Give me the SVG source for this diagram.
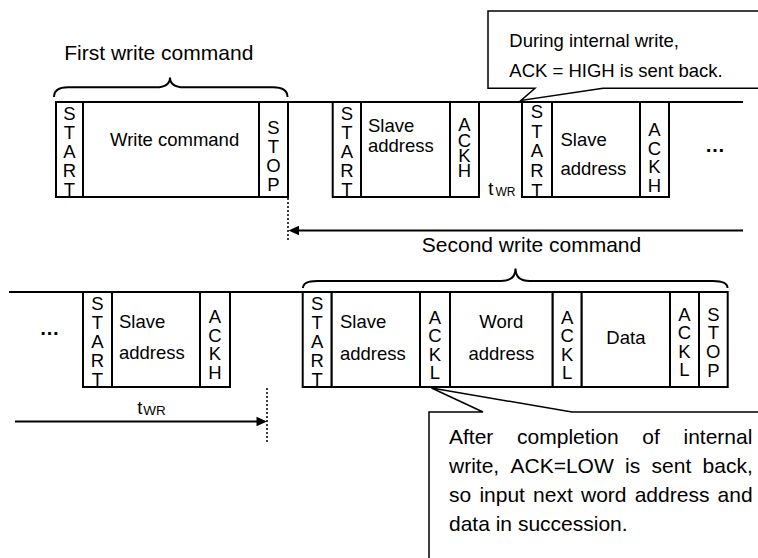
<svg xmlns="http://www.w3.org/2000/svg" width="758" height="558" viewBox="0 0 758 558">
<defs>
<style>
.box{fill:#fff;stroke:#000;stroke-width:2}
.ln{fill:none;stroke:#000;stroke-width:2}
.dot{fill:none;stroke:#000;stroke-width:1.5;stroke-dasharray:2 2}
.call{fill:#fff;stroke:#000;stroke-width:1.5}
text{font-family:"Liberation Sans",Arial,sans-serif;fill:#000}
.t{font-size:18.5px}
.c{text-anchor:middle}
.big{font-size:21px}
.vt{font-size:18.5px;writing-mode:vertical-rl;text-orientation:upright}
.el{font-size:20px;font-weight:bold;text-anchor:middle}
</style>
</defs>
<rect width="758" height="558" fill="#fff"/>

<g id="connectors">
  <line class="ln" x1="288" y1="102" x2="743" y2="102"/>
  <line class="ln" x1="9" y1="292" x2="303" y2="292"/>
  <line class="dot" x1="288" y1="198" x2="288" y2="242"/>
  <line class="dot" x1="267" y1="388" x2="267" y2="442"/>
  <line class="ln" x1="743" y1="230.5" x2="297" y2="230.5"/>
  <polygon points="288.5,230.5 299,225.8 299,235.2" fill="#000"/>
  <line class="ln" x1="15" y1="421.5" x2="258" y2="421.5"/>
  <polygon points="267,421.5 256.5,416.8 256.5,426.2" fill="#000"/>
  <path class="ln" d="M54 97 Q54 87.3 68 87.3 L156 87.3 Q170 87.3 170 77.5 Q170 87.3 184 87.3 L273 87.3 Q287.5 87.3 287.5 97"/>
  <path class="ln" d="M303 288 Q303 281 317 281 L501 281 Q515.5 281 515.5 268.5 Q515.5 281 530 281 L713 281 Q727.5 281 727.5 288"/>
</g>

<g id="label-first">
  <text class="big" x="64.3" y="60">First write command</text>
</g>
<g id="label-second">
  <text class="big c" x="531.5" y="251.7">Second write command</text>
</g>

<!-- top row -->
<g id="t-start1">
  <rect class="box" x="56" y="102" width="27" height="95"/>
  <text class="vt" x="69.5" y="103" letter-spacing="-1.9">START</text>
</g>
<g id="t-write">
  <rect class="box" x="83" y="102" width="176" height="95"/>
  <text class="t" x="110" y="145.7">Write command</text>
</g>
<g id="t-stop">
  <rect class="box" x="259" y="102" width="29" height="95"/>
  <text class="vt" x="273.5" y="116.6" letter-spacing="-1.8">STOP</text>
</g>
<g id="t-start2">
  <rect class="box" x="332.7" y="102" width="28.3" height="95"/>
  <text class="vt" x="346.9" y="103" letter-spacing="-1.9">START</text>
</g>
<g id="t-slave1">
  <rect class="box" x="361" y="102" width="89" height="95"/>
  <text class="t"><tspan x="368" y="131.7">Slave</tspan><tspan x="368" y="151.7">address</tspan></text>
</g>
<g id="t-ackh1">
  <rect class="box" x="450" y="102" width="29" height="95"/>
  <text class="vt" x="464.5" y="114.3" letter-spacing="-5.7">ACKH</text>
</g>
<g id="t-twr">
  <text class="t" x="488.3" y="195">t</text>
  <text x="495.5" y="196" font-size="12">WR</text>
</g>
<g id="t-start3">
  <rect class="box" x="522" y="102" width="30" height="95"/>
  <text class="vt" x="537" y="100.8" letter-spacing="-1.25">START</text>
</g>
<g id="t-slave2">
  <rect class="box" x="552" y="102" width="88" height="95"/>
  <text class="t"><tspan x="560.5" y="145.5">Slave</tspan><tspan x="560.5" y="174.8">address</tspan></text>
</g>
<g id="t-ackh2">
  <rect class="box" x="640" y="102" width="29" height="95"/>
  <text class="vt" x="654.5" y="119.3" letter-spacing="-2.4">ACKH</text>
</g>
<g id="t-more">
  <text class="el" x="715" y="152">…</text>
</g>

<!-- bottom row -->
<g id="b-more">
  <text class="el" x="49.5" y="335">…</text>
</g>
<g id="b-start1">
  <rect class="box" x="83" y="292" width="29" height="95"/>
  <text class="vt" x="97.5" y="292.6" letter-spacing="-1.95">START</text>
</g>
<g id="b-slave1">
  <rect class="box" x="112" y="292" width="88" height="95"/>
  <text class="t"><tspan x="119" y="327.5">Slave</tspan><tspan x="119" y="359.3">address</tspan></text>
</g>
<g id="b-ackh">
  <rect class="box" x="200" y="292" width="30" height="95"/>
  <text class="vt" x="215" y="306.1" letter-spacing="-2.5">ACKH</text>
</g>
<g id="b-twr">
  <text class="t" x="137.3" y="414.3">t</text>
  <text x="143.3" y="415.3" font-size="13.5">WR</text>
</g>
<g id="b-start2">
  <rect class="box" x="302.7" y="292" width="29" height="95"/>
  <text class="vt" x="317.2" y="292.6" letter-spacing="-1.95">START</text>
</g>
<g id="b-slave2">
  <rect class="box" x="331.7" y="292" width="88.3" height="95"/>
  <text class="t"><tspan x="340" y="328">Slave</tspan><tspan x="340" y="359.5">address</tspan></text>
</g>
<g id="b-ackl1">
  <rect class="box" x="420" y="292" width="30" height="95"/>
  <text class="vt" x="435" y="306.6" letter-spacing="-2.4">ACKL</text>
</g>
<g id="b-word">
  <rect class="box" x="450" y="292" width="102.7" height="95"/>
  <text class="t c"><tspan x="501.3" y="328">Word</tspan><tspan x="501.3" y="359.5">address</tspan></text>
</g>
<g id="b-ackl2">
  <rect class="box" x="552.7" y="292" width="29" height="95"/>
  <text class="vt" x="567.2" y="306.6" letter-spacing="-2.4">ACKL</text>
</g>
<g id="b-data">
  <rect class="box" x="581.7" y="292" width="88.3" height="95"/>
  <text class="t c" x="625.9" y="344.3">Data</text>
</g>
<g id="b-ackl3">
  <rect class="box" x="670" y="292" width="29" height="95"/>
  <text class="vt" x="684.5" y="303.9" letter-spacing="-2.6">ACKL</text>
</g>
<g id="b-stop">
  <rect class="box" x="699" y="292" width="28.7" height="95"/>
  <text class="vt" x="713.3" y="303.6" letter-spacing="-2.1">STOP</text>
</g>

<!-- callouts -->
<g id="callout-high">
  <polygon class="call" points="488,11 775,11 775,88.3 603,88.3 521,100.5 535,88.3 488,88.3"/>
  <text class="t"><tspan x="509.3" y="46.7">During internal write,</tspan><tspan x="509.3" y="77.3">ACK = HIGH is sent back.</tspan></text>
</g>
<g id="callout-low">
  <polygon class="call" points="429,412 483,412 431.5,388 572,412 775,412 775,575 429,575"/>
  <text class="big">
    <tspan x="449" y="444.3">After</tspan><tspan x="517.1" y="444.3">completion</tspan><tspan x="642.3" y="444.3">of</tspan><tspan x="683.5" y="444.3">internal</tspan>
    <tspan x="449" y="473.3">write,</tspan><tspan x="510.5" y="473.3">ACK=LOW</tspan><tspan x="625.1" y="473.3">is</tspan><tspan x="651.6" y="473.3">sent</tspan><tspan x="702.6" y="473.3">back,</tspan>
    <tspan x="449" y="501.7">so</tspan><tspan x="479.4" y="501.7">input</tspan><tspan x="533.1" y="501.7">next</tspan><tspan x="581" y="501.7">word</tspan><tspan x="634.7" y="501.7">address</tspan><tspan x="717.6" y="501.7">and</tspan>
    <tspan x="449" y="530.7">data in succession.</tspan>
  </text>
</g>
</svg>
